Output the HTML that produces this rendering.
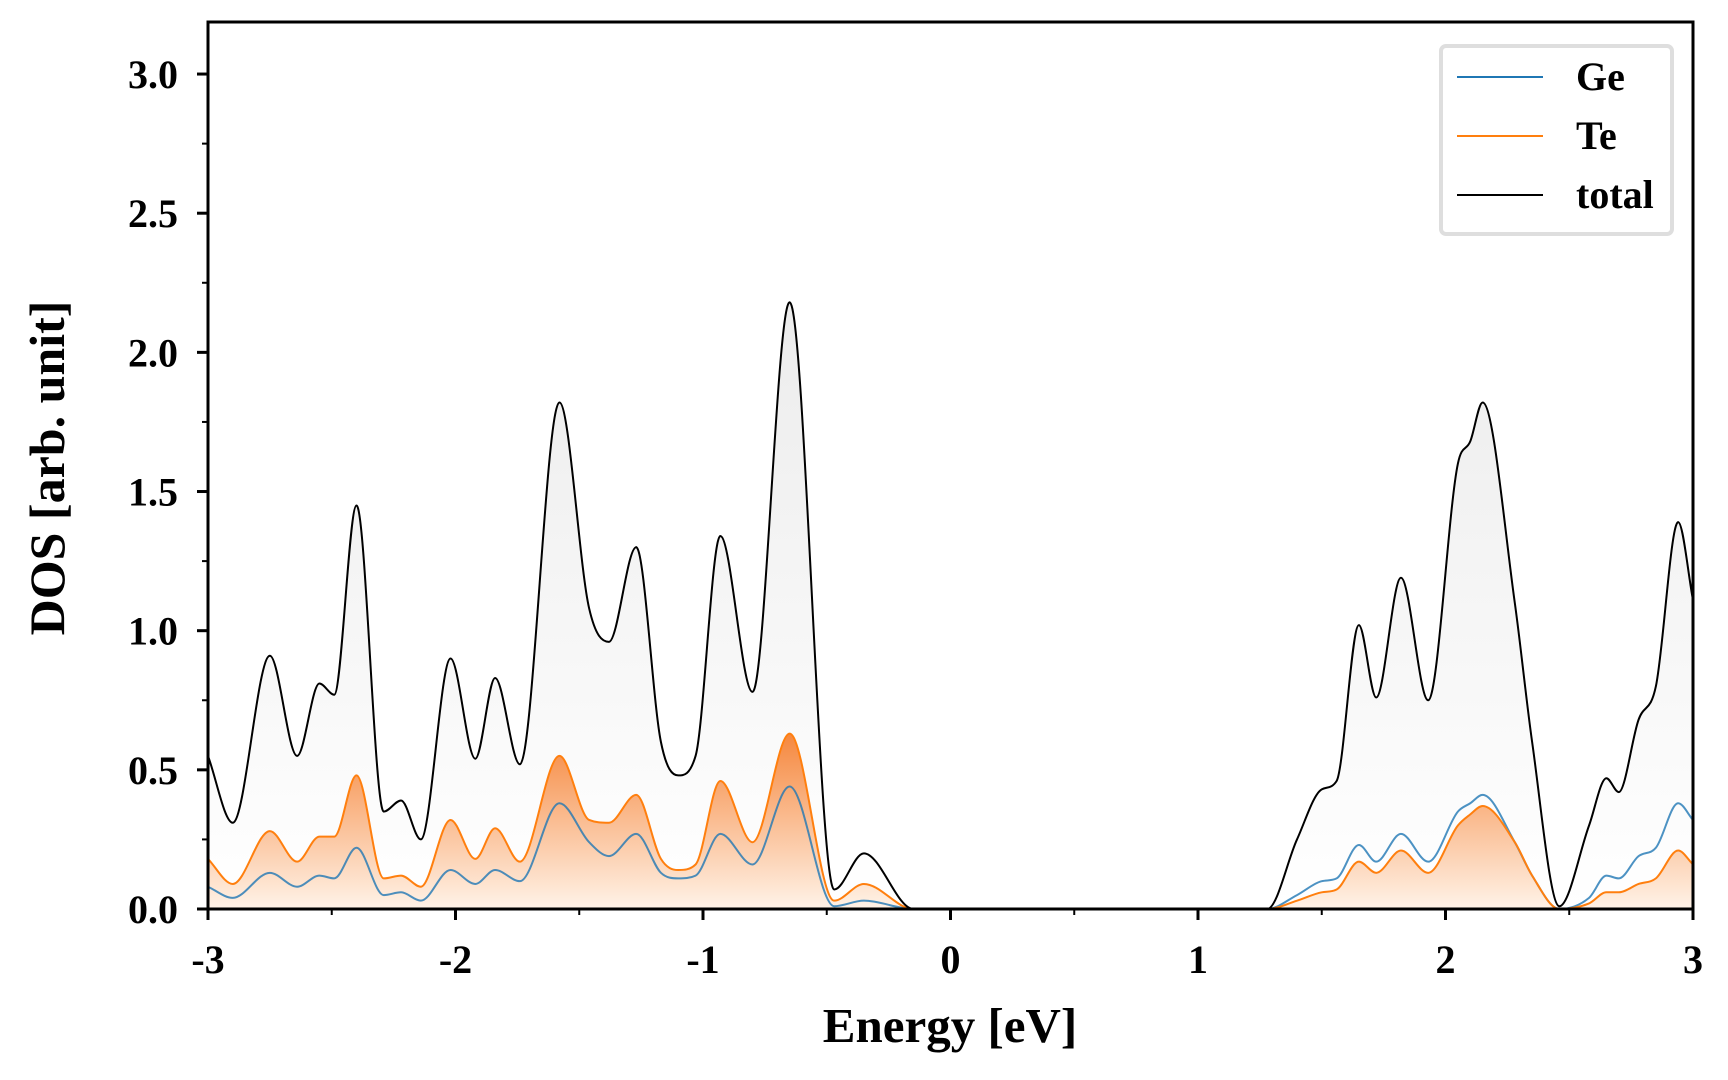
<!DOCTYPE html>
<html><head><meta charset="utf-8"><style>
html,body{margin:0;padding:0;background:#fff;width:1728px;height:1080px;overflow:hidden}
svg text{font-family:"Liberation Serif",serif;font-weight:bold;fill:#000}
</style></head><body>
<svg id="chart" width="1728" height="1080" xmlns="http://www.w3.org/2000/svg">
<defs>
<linearGradient id="gGrey" gradientUnits="userSpaceOnUse" x1="0" y1="300" x2="0" y2="909">
<stop offset="0" stop-color="#ececec"/><stop offset="1" stop-color="#ffffff"/></linearGradient>
<linearGradient id="gOrange" gradientUnits="userSpaceOnUse" x1="0" y1="730" x2="0" y2="909">
<stop offset="0" stop-color="#f5853a"/><stop offset="1" stop-color="#fff3e8"/></linearGradient>
<clipPath id="clip"><rect x="208" y="22" width="1485" height="887"/></clipPath>
</defs>
<g id="plot" clip-path="url(#clip)"></g>
<g id="axes"></g>
</svg>
<script>
const energies=[-3.0,-2.9,-2.75,-2.64,-2.55,-2.49,-2.4,-2.29,-2.22,-2.14,-2.02,-1.92,-1.84,-1.74,-1.58,-1.46,-1.38,-1.27,-1.17,-1.1,-1.03,-0.93,-0.8,-0.65,-0.47,-0.35,-0.15,0.0,1.0,1.28,1.4,1.5,1.56,1.65,1.72,1.82,1.93,2.05,2.1,2.15,2.28,2.35,2.46,2.58,2.65,2.7,2.78,2.85,2.94,3.0];
const totalDos=[0.55,0.31,0.91,0.55,0.81,0.77,1.45,0.35,0.39,0.25,0.9,0.54,0.83,0.52,1.82,1.08,0.96,1.3,0.6,0.48,0.55,1.34,0.78,2.18,0.07,0.2,0.0,0.0,0.0,0.0,0.25,0.43,0.46,1.02,0.76,1.19,0.75,1.6,1.68,1.82,1.1,0.6,0.01,0.3,0.47,0.42,0.68,0.8,1.39,1.11];
const teDos=[0.18,0.09,0.28,0.17,0.26,0.26,0.48,0.11,0.12,0.08,0.32,0.18,0.29,0.17,0.55,0.32,0.31,0.41,0.18,0.14,0.16,0.46,0.24,0.63,0.03,0.09,0.0,0.0,0.0,0.0,0.03,0.06,0.07,0.17,0.13,0.21,0.13,0.3,0.34,0.37,0.24,0.12,0.0,0.02,0.06,0.06,0.09,0.11,0.21,0.16];
const geDos=[0.08,0.04,0.13,0.08,0.12,0.11,0.22,0.05,0.06,0.03,0.14,0.09,0.14,0.1,0.38,0.24,0.19,0.27,0.13,0.11,0.12,0.27,0.16,0.44,0.01,0.03,0.0,0.0,0.0,0.0,0.05,0.1,0.11,0.23,0.17,0.27,0.17,0.35,0.38,0.41,0.24,0.12,0.0,0.04,0.12,0.11,0.19,0.22,0.38,0.32];
const xTicks=[-3,-2,-1,0,1,2,3];
const xTickLabels=["-3","-2","-1","0","1","2","3"];
const yTicks=[0,0.5,1.0,1.5,2.0,2.5,3.0];
const yTickLabels=["0.0","0.5","1.0","1.5","2.0","2.5","3.0"];
const L=208,R=1693,T=22,B=909,xmin=-3,xmax=3,ymin=0,ymax=3.187;
const sx=v=>L+(v-xmin)/(xmax-xmin)*(R-L);
const sy=v=>B-(v-ymin)/(ymax-ymin)*(B-T);
const NS="http://www.w3.org/2000/svg";
function mk(tag,attrs,parent){const e=document.createElementNS(NS,tag);for(const k in attrs)e.setAttribute(k,attrs[k]);parent.appendChild(e);return e;}
function monoPath(xs,ys){
  const n=xs.length,px=xs.map(sx),py=ys.map(sy);const d=[],m=[];
  for(let i=0;i<n-1;i++)d.push((py[i+1]-py[i])/(px[i+1]-px[i]));
  m[0]=d[0];m[n-1]=d[n-2];
  for(let i=1;i<n-1;i++){if(d[i-1]*d[i]<=0)m[i]=0;else{m[i]=(d[i-1]+d[i])/2;}}
  for(let i=0;i<n-1;i++){if(d[i]===0){m[i]=0;m[i+1]=0;continue;}const a=m[i]/d[i],b=m[i+1]/d[i];const s=a*a+b*b;if(s>9){const t=3/Math.sqrt(s);m[i]=t*a*d[i];m[i+1]=t*b*d[i];}}
  let p=`M${px[0]},${py[0]}`;
  for(let i=0;i<n-1;i++){const h=(px[i+1]-px[i])/3;p+=` C${px[i]+h},${py[i]+m[i]*h} ${px[i+1]-h},${py[i+1]-m[i+1]*h} ${px[i+1]},${py[i+1]}`;}
  return p;
}
const plot=document.getElementById('plot'),axes=document.getElementById('axes');
const tp=monoPath(energies,totalDos),op=monoPath(energies,teDos),gp=monoPath(energies,geDos);
const close=`L${sx(energies[energies.length-1])},${B} L${sx(energies[0])},${B} Z`;
const f1=mk('path',{d:tp+close,fill:'url(#gGrey)',stroke:'none'},plot);


const f2=mk('path',{d:op+close,fill:'url(#gOrange)',stroke:'none'},plot);


const lg=mk('path',{d:gp,fill:'none',stroke:'#1f77b4','stroke-width':2,'stroke-opacity':0.8},plot);


const lo=mk('path',{d:op,fill:'none',stroke:'#ff7f0e','stroke-width':2},plot);


const lt=mk('path',{d:tp,fill:'none',stroke:'#000','stroke-width':2},plot);


const fr=mk('rect',{x:L,y:T,width:R-L,height:B-T,fill:'none',stroke:'#000','stroke-width':3},axes);


xTicks.forEach((v,i)=>{
  const t=mk('line',{x1:sx(v),x2:sx(v),y1:B,y2:B+11,stroke:'#000','stroke-width':3},axes);
  
  
  const l=mk('text',{x:sx(v),y:973,'font-size':40,'text-anchor':'middle'},axes);l.textContent=xTickLabels[i];
  
  
});
for(let v=-2.5;v<3;v+=1){const t=mk('line',{x1:sx(v),x2:sx(v),y1:B,y2:B+6,stroke:'#000','stroke-width':2},axes);
  
  }
yTicks.forEach((v,i)=>{
  const t=mk('line',{x1:L-11,x2:L,y1:sy(v),y2:sy(v),stroke:'#000','stroke-width':3},axes);
  
  
  const l=mk('text',{x:178,y:sy(v)+14,'font-size':40,'text-anchor':'end'},axes);l.textContent=yTickLabels[i];
  
  
});
for(let v=0.25;v<3.1;v+=0.5){const t=mk('line',{x1:L-6,x2:L,y1:sy(v),y2:sy(v),stroke:'#000','stroke-width':2},axes);
  
  }
const xl=mk('text',{x:950,y:1042,'font-size':49,'text-anchor':'middle'},axes);xl.textContent='Energy [eV]';


const yl=mk('text',{x:0,y:0,'font-size':50,'text-anchor':'middle',transform:'translate(64,468) rotate(-90)'},axes);yl.textContent='DOS [arb. unit]';


const lb=mk('rect',{x:1441,y:46,width:231,height:188,rx:5,fill:'#fff',stroke:'#dedede','stroke-width':4},axes);


[['Ge','#1f77b4',77],['Te','#ff7f0e',136],['total','#000',195]].forEach(([n,c,y])=>{
  const ln=mk('line',{x1:1457,x2:1543,y1:y,y2:y,stroke:c,'stroke-width':2},axes);
  
  
  const tx=mk('text',{x:1576,y:y+13,'font-size':40},axes);tx.textContent=n;
  
  
});
</script>
</body></html>
